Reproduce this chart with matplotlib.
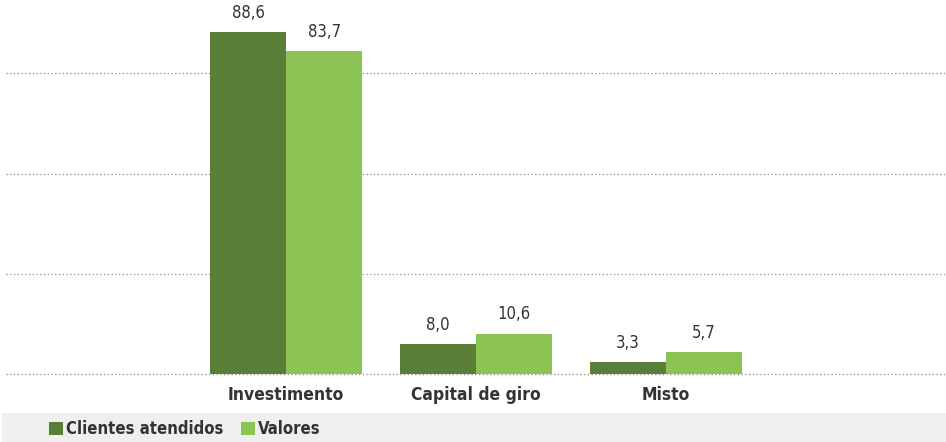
import numpy as np
import matplotlib.pyplot as plt
from matplotlib.patches import Rectangle

categories = ["Investimento", "Capital de giro", "Misto"]
clientes = [88.6, 8.0, 3.3]
valores = [83.7, 10.6, 5.7]
grid_ticks = [0, 26, 52, 78]

dark = "#5a7d38"
light = "#8cc454"
txt = "#333333"
plt.rcParams["font.family"] = ["DejaVu Sans"]
plt.rcParams["font.stretch"] = "condensed"

fig = plt.figure(figsize=(9.46, 4.42), dpi=100)
ax = fig.add_axes([6 / 946, 66 / 442, 939 / 946, 376 / 442])

x = np.arange(len(categories))
w = 0.4
b1 = ax.bar(x - w / 2, clientes, w, color=dark, label="Clientes atendidos", zorder=3)
b2 = ax.bar(x + w / 2, valores, w, color=light, label="Valores", zorder=3)

for bars, vals in ((b1, clientes), (b2, valores)):
    for r, v in zip(bars, vals):
        ax.text(r.get_x() + r.get_width() / 2, v + 2.6, f"{v:.1f}".replace(".", ","),
                ha="center", va="bottom", fontsize=12, color=txt, stretch="condensed")

ax.set_xlim(-1.474, 3.468)
ax.set_ylim(-0.4, 97)
ax.set_yticks(grid_ticks)
ax.yaxis.grid(True, linestyle=(0, (1, 2)), color="#888888", linewidth=0.9, zorder=0)
ax.tick_params(axis="y", length=0, labelleft=False)
ax.set_xticks(x)
ax.set_xticklabels(categories, fontsize=12.5, fontweight="bold", color=txt, stretch="condensed")
ax.tick_params(axis="x", length=0, pad=7)
for s in ax.spines.values():
    s.set_visible(False)

fig.patches.append(Rectangle((2 / 946, 0), 1, 29 / 442, transform=fig.transFigure,
                             facecolor="#eff0ee", edgecolor="none", zorder=0))
fig.legend(loc="lower left", bbox_to_anchor=(34 / 946, -11 / 442), ncol=2, frameon=False,
           prop={"size": 12, "weight": "bold", "stretch": "condensed"}, labelcolor=txt,
           handlelength=0.85, handleheight=0.85, handletextpad=0.2, columnspacing=1.0)

fig.savefig("out.png", dpi=100)
